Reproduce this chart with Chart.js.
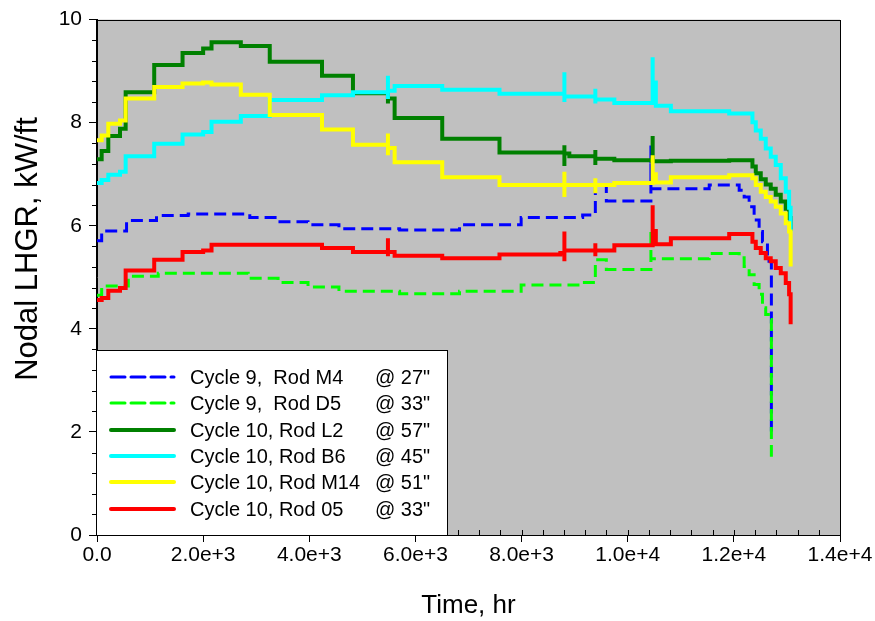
<!DOCTYPE html>
<html>
<head>
<meta charset="utf-8">
<script src="https://cdn.jsdelivr.net/npm/chart.js@4/dist/chart.umd.min.js"></script>
<style>
  html, body { margin: 0; padding: 0; background: #ffffff; }
  canvas { display: block; }
</style>
</head>
<body>
<canvas id="chart" width="875" height="621"></canvas>
<script>
// Axis tick labels and titles
const xTickLabels = ['0.0', '2.0e+3', '4.0e+3', '6.0e+3', '8.0e+3', '1.0e+4', '1.2e+4', '1.4e+4'];
const yTickLabels = ['0', '2', '4', '6', '8', '10'];
const xTitle = 'Time, hr';
const yTitle = 'Nodal LHGR, kW/ft';

// Legend text: rod name and axial elevation
const seriesNames = ['Cycle 9,  Rod M4', 'Cycle 9,  Rod D5', 'Cycle 10, Rod L2', 'Cycle 10, Rod B6', 'Cycle 10, Rod M14', 'Cycle 10, Rod 05'];
const seriesElevations = ['@ 27"', '@ 33"', '@ 57"', '@ 45"', '@ 51"', '@ 33"'];

// Cycle 9, Rod M4 @ 27"  (time in hr, LHGR in kW/ft)
const m4Time  = [0, 88, 557, 1121, 1718, 2879, 3412, 3976, 4559, 5702, 6831, 7992, 9151, 9390, 9597, 10437, 10437, 11536, 12100, 12194, 12288, 12382, 12476, 12539, 12633, 12707];
const m4Value = [5.71, 5.90, 6.10, 6.20, 6.23, 6.16, 6.08, 6.02, 5.94, 5.92, 6.02, 6.16, 6.21, 6.80, 6.48, 7.56, 6.72, 6.79, 6.69, 6.56, 6.37, 6.11, 5.89, 5.69, 5.31, 1.90];

// Cycle 9, Rod D5 @ 33"
const d5Time  = [0, 88, 590, 1154, 2850, 3412, 3976, 4559, 5702, 6831, 7992, 9151, 9390, 9597, 10437, 10437, 11536, 12100, 12194, 12288, 12382, 12476, 12539, 12600, 12650, 12707];
const d5Value = [4.65, 4.83, 5.02, 5.08, 4.98, 4.90, 4.81, 4.73, 4.68, 4.73, 4.85, 4.90, 5.34, 5.15, 5.92, 5.36, 5.46, 5.38, 5.21, 5.05, 4.86, 4.67, 4.41, 4.28, 4.18, 1.52];

// Cycle 10, Rod L2 @ 57"
const l2Time  = [0, 88, 213, 433, 540, 1078, 1612, 2000, 2158, 2710, 3255, 4240, 4823, 5482, 5482, 5608, 6505, 7584, 8807, 8807, 8807, 8900, 9390, 9390, 9390, 9748, 10470, 10470, 10813, 11912, 12350, 12413, 12507, 12601, 12695, 12789, 12884, 12978, 13041, 13070];
const l2Value = [7.29, 7.45, 7.74, 7.88, 8.59, 9.12, 9.35, 9.44, 9.56, 9.49, 9.18, 8.91, 8.57, 8.37, 8.47, 8.09, 7.69, 7.42, 7.56, 7.16, 7.40, 7.35, 7.47, 7.18, 7.30, 7.27, 7.74, 7.25, 7.26, 7.27, 7.15, 7.02, 6.90, 6.80, 6.72, 6.60, 6.47, 6.33, 6.15, 5.90];

// Cycle 10, Rod B6 @ 45"
const b6Time  = [0, 88, 213, 433, 540, 1078, 1612, 2000, 2158, 2710, 3255, 4240, 4823, 5482, 5482, 5482, 5608, 6505, 7584, 8807, 8807, 8807, 9390, 9390, 9390, 9748, 10470, 10470, 10530, 10813, 11912, 12350, 12413, 12507, 12601, 12695, 12789, 12884, 12978, 13041, 13070];
const b6Value = [6.83, 6.89, 6.99, 7.05, 7.35, 7.59, 7.77, 7.82, 8.02, 8.13, 8.44, 8.53, 8.59, 8.91, 8.46, 8.62, 8.71, 8.64, 8.56, 8.98, 8.40, 8.51, 8.66, 8.37, 8.45, 8.38, 9.27, 8.78, 8.33, 8.22, 8.18, 8.01, 7.85, 7.69, 7.50, 7.34, 7.18, 6.92, 6.66, 6.35, 5.89];

// Cycle 10, Rod M14 @ 51"
const m14Time  = [0, 88, 213, 433, 540, 1078, 1612, 2000, 2158, 2710, 3255, 4240, 4823, 5482, 5482, 5482, 5608, 6505, 7584, 8807, 8807, 8807, 9390, 9390, 9390, 9748, 10470, 10470, 10530, 10813, 11912, 12350, 12413, 12507, 12601, 12695, 12789, 12884, 12978, 13041, 13070];
const m14Value = [7.66, 7.75, 7.98, 8.04, 8.47, 8.69, 8.76, 8.78, 8.74, 8.54, 8.15, 7.87, 7.57, 7.79, 7.37, 7.51, 7.23, 6.94, 6.79, 7.05, 6.56, 6.79, 6.92, 6.63, 6.79, 6.83, 7.37, 7.00, 6.84, 6.94, 6.98, 6.92, 6.79, 6.66, 6.56, 6.47, 6.37, 6.24, 6.05, 5.89, 5.21];

// Cycle 10, Rod 05 @ 33"
const r05Time  = [0, 88, 213, 433, 540, 1078, 1612, 2000, 2158, 4240, 4823, 5482, 5482, 5482, 5608, 6505, 7584, 8730, 8807, 8807, 8807, 9390, 9390, 9390, 9748, 10470, 10470, 10530, 10813, 11912, 12350, 12413, 12507, 12601, 12695, 12789, 12884, 12978, 13041, 13070];
const r05Value = [4.56, 4.60, 4.74, 4.79, 5.13, 5.34, 5.49, 5.52, 5.63, 5.57, 5.49, 5.76, 5.41, 5.49, 5.42, 5.37, 5.44, 5.47, 5.89, 5.31, 5.52, 5.66, 5.41, 5.52, 5.62, 6.40, 5.90, 5.64, 5.76, 5.84, 5.69, 5.57, 5.47, 5.37, 5.31, 5.18, 5.08, 4.89, 4.67, 4.09];

const toPoints = (t, v) => t.map((x, i) => ({ x: x, y: v[i] }));

const FONT = "'Liberation Sans', Arial, Helvetica, sans-serif";
Chart.defaults.font.family = FONT;
Chart.defaults.color = '#000000';

function series(idx, t, v, color, width, dash, order) {
  return {
    label: seriesNames[idx] + ' ' + seriesElevations[idx],
    data: toPoints(t, v),
    borderColor: color,
    backgroundColor: color,
    borderWidth: width,
    borderDash: dash,
    borderCapStyle: 'butt',
    borderJoinStyle: 'miter',
    stepped: 'before',
    pointRadius: 0,
    pointHoverRadius: 0,
    fill: false,
    order: order
  };
}

// Grey plotting field, drawn beneath scales and data
const plotBackground = {
  id: 'plotBackground',
  beforeDraw(chart) {
    const { ctx, chartArea: a } = chart;
    ctx.save();
    ctx.fillStyle = '#ffffff';
    ctx.fillRect(0, 0, chart.width, chart.height);
    ctx.fillStyle = '#c0c0c0';
    ctx.fillRect(a.left, a.top, a.right - a.left, a.bottom - a.top);
    ctx.restore();
  }
};

// Minor tick marks every 400 hr and every 0.4 kW/ft, plus the rotated y title
const minorTicks = {
  id: 'minorTicks',
  beforeDatasetsDraw(chart) {
    const { ctx, chartArea: a, scales } = chart;
    ctx.save();
    ctx.strokeStyle = '#000000';
    ctx.lineWidth = 1;
    ctx.beginPath();
    for (let k = 0; k <= 35; k++) {
      const px = Math.round(scales.x.getPixelForValue(k * 400)) + 0.5;
      ctx.moveTo(px, a.bottom);
      ctx.lineTo(px, a.bottom - 5);
    }
    for (let k = 0; k <= 25; k++) {
      if (k % 5 === 0) continue;
      const py = Math.round(scales.y.getPixelForValue(k * 0.4)) + 0.5;
      ctx.moveTo(a.left, py);
      ctx.lineTo(a.left - 5, py);
    }
    ctx.stroke();

    ctx.translate(28, 249);
    ctx.rotate(-Math.PI / 2);
    ctx.font = '31px ' + FONT;
    ctx.fillStyle = '#000000';
    ctx.textAlign = 'center';
    ctx.textBaseline = 'middle';
    ctx.fillText(yTitle, 0, 0);
    ctx.restore();
  }
};

// Frame around the plotting field and boxed legend in the lower left corner
const frameAndLegend = {
  id: 'frameAndLegend',
  afterDatasetsDraw(chart) {
    const { ctx, chartArea: a } = chart;
    ctx.save();
    ctx.strokeStyle = '#000000';
    ctx.lineWidth = 1;
    ctx.strokeRect(Math.round(a.left) - 0.5, Math.round(a.top) + 0.5, Math.round(a.right - a.left) + 1, Math.round(a.bottom - a.top));

    const bx = Math.round(a.left) - 0.5, by = 350.5, bw = 351, bh = Math.round(a.bottom) - 350;
    ctx.fillStyle = '#ffffff';
    ctx.fillRect(bx, by, bw, bh);
    ctx.strokeRect(bx, by, bw, bh);

    ctx.font = '20px ' + FONT;
    ctx.textBaseline = 'middle';
    ctx.textAlign = 'left';
    chart.data.datasets.forEach((ds, row) => {
      const y = Math.round(377 + row * 26.3);
      ctx.beginPath();
      ctx.strokeStyle = ds.borderColor;
      ctx.lineWidth = ds.borderDash.length ? 3 : 4;
      ctx.setLineDash(ds.borderDash.length ? [14, 6] : []);
      ctx.lineCap = 'round';
      ctx.moveTo(111, y);
      ctx.lineTo(174, y);
      ctx.stroke();
      ctx.setLineDash([]);
      ctx.fillStyle = '#000000';
      ctx.fillText(seriesNames[row], 190, y + 1);
      ctx.fillText(seriesElevations[row], 375, y + 1);
    });
    ctx.restore();
  }
};

new Chart(document.getElementById('chart'), {
  type: 'line',
  data: {
    datasets: [
      series(0, m4Time, m4Value, '#0000ff', 3, [12, 6], 6),
      series(1, d5Time, d5Value, '#00ff00', 3, [12, 6], 5),
      series(2, l2Time, l2Value, '#008000', 4, [], 4),
      series(3, b6Time, b6Value, '#00ffff', 4, [], 3),
      series(4, m14Time, m14Value, '#ffff00', 4, [], 2),
      series(5, r05Time, r05Value, '#ff0000', 4, [], 1)
    ]
  },
  options: {
    responsive: false,
    animation: false,
    devicePixelRatio: 1,
    events: [],
    layout: { padding: { top: 17, right: 35, left: 0, bottom: 0 } },
    plugins: {
      legend: { display: false },
      tooltip: { enabled: false },
      title: { display: false }
    },
    scales: {
      x: {
        type: 'linear',
        min: 0,
        max: 14000,
        afterFit(scale) { scale.height = 86; },
        ticks: {
          stepSize: 2000,
          autoSkip: false,
          maxRotation: 0,
          padding: 1,
          font: { size: 21 },
          color: '#000000',
          callback: (value, index) => xTickLabels[index]
        },
        grid: { drawOnChartArea: false, drawTicks: true, tickLength: 7, color: '#000000', lineWidth: 1 },
        border: { display: true, color: '#000000', width: 1 },
        title: { display: true, text: xTitle, font: { size: 26 }, color: '#000000', padding: { top: 0, bottom: 0 } }
      },
      y: {
        type: 'linear',
        min: 0,
        max: 10,
        afterFit(scale) { scale.width = 97; },
        ticks: {
          stepSize: 2,
          autoSkip: false,
          padding: 7,
          font: { size: 21 },
          color: '#000000',
          callback: (value, index) => yTickLabels[index]
        },
        grid: { drawOnChartArea: false, drawTicks: true, tickLength: 8, color: '#000000', lineWidth: 1 },
        border: { display: true, color: '#000000', width: 1 },
        title: { display: false }
      }
    }
  },
  plugins: [plotBackground, minorTicks, frameAndLegend]
});
</script>
</body>
</html>
